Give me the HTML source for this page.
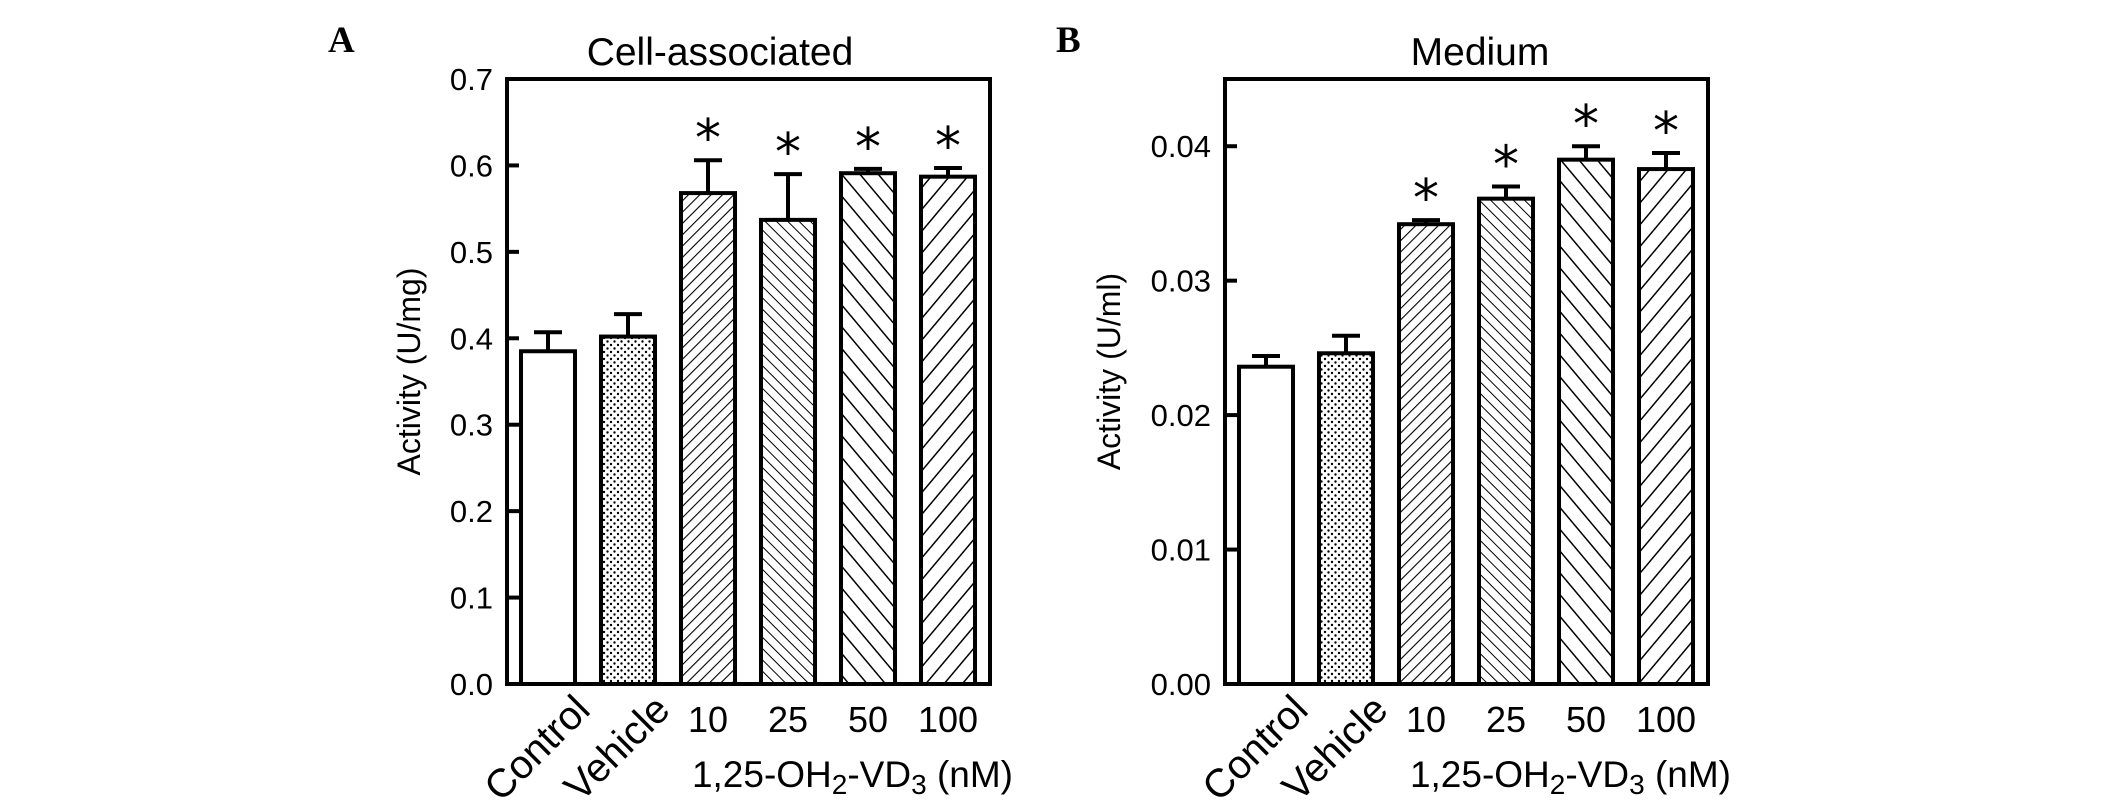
<!DOCTYPE html>
<html><head><meta charset="utf-8">
<style>
html,body{margin:0;padding:0;background:#fff;}
svg{display:block;font-family:"Liberation Sans",Arial,sans-serif;}
</style></head>
<body>
<svg id="fig" width="2126" height="806" viewBox="0 0 2126 806" xmlns="http://www.w3.org/2000/svg">
<defs>
<pattern id="dots" patternUnits="userSpaceOnUse" width="7" height="7"><rect width="7" height="7" fill="#fff"/><circle cx="2" cy="2" r="1.2" fill="#000"/><circle cx="5.5" cy="5.5" r="1.2" fill="#000"/></pattern>
<pattern id="fwdDense" patternUnits="userSpaceOnUse" width="8" height="8" patternTransform="rotate(45)"><rect width="8" height="8" fill="#fff"/><line x1="0" y1="0" x2="0" y2="8" stroke="#000" stroke-width="2.2"/></pattern>
<pattern id="backDense" patternUnits="userSpaceOnUse" width="8" height="8" patternTransform="rotate(-45)"><rect width="8" height="8" fill="#fff"/><line x1="0" y1="0" x2="0" y2="8" stroke="#000" stroke-width="2"/></pattern>
<pattern id="backWide" patternUnits="userSpaceOnUse" width="14" height="14" patternTransform="rotate(-40)"><rect width="14" height="14" fill="#fff"/><line x1="0" y1="0" x2="0" y2="14" stroke="#000" stroke-width="3"/></pattern>
<pattern id="fwdWide" patternUnits="userSpaceOnUse" width="14" height="14" patternTransform="rotate(40)"><rect width="14" height="14" fill="#fff"/><line x1="0" y1="0" x2="0" y2="14" stroke="#000" stroke-width="3"/></pattern>
</defs>
<g id="panelA"></g>
<g id="panelB"></g>
</svg>
<script>
const categories = ["Control","Vehicle","10","25","50","100"];
const fills = ["#fff","url(#dots)","url(#fwdDense)","url(#backDense)","url(#backWide)","url(#fwdWide)"];
const starFlags = [false,false,true,true,true,true];
const valuesA = [0.385,0.402,0.568,0.537,0.591,0.587];
const errorsA = [0.022,0.026,0.038,0.053,0.005,0.010];
const ticksA = ["0.0","0.1","0.2","0.3","0.4","0.5","0.6","0.7"];
const valuesB = [0.0236,0.0246,0.0342,0.0361,0.0390,0.0383];
const errorsB = [0.0008,0.0013,0.0003,0.0009,0.0010,0.0012];
const ticksB = ["0.00","0.01","0.02","0.03","0.04"];

const NS="http://www.w3.org/2000/svg";
function mk(parent,tag,attrs,text){const e=document.createElementNS(NS,tag);for(const k in attrs)e.setAttribute(k,attrs[k]);if(text!==undefined)e.textContent=text;parent.appendChild(e);return e;}

function drawPanel(g,cfg){
  const L=cfg.left,R=cfg.left+483,T=79,B=684;
  const y=v=>B-(v/cfg.ymax)*(B-T);
  const bx=i=>L+14+i*80;
  const bw=54;
  const lt=mk(g,'text',{x:cfg.letterX,y:52,'font-family':'"Liberation Serif",serif','font-weight':'bold','font-size':37},cfg.letter);
  
  
  const tt=mk(g,'text',{x:cfg.titleX,y:65,'text-anchor':'middle','font-size':39},cfg.title);
  
  
  for(let i=0;i<categories.length;i++){
    const v=cfg.values[i],e=cfg.errors[i],cx=bx(i)+bw/2;
    const bar=mk(g,'rect',{x:bx(i),y:y(v),width:bw,height:B-y(v),fill:fills[i],stroke:'#000','stroke-width':4});
    
    
    const eg=mk(g,'path',{d:`M${cx} ${y(v)} V${y(v+e)} M${cx-14} ${y(v+e)} H${cx+14}`,stroke:'#000','stroke-width':4,fill:'none'});
    
    
    if(starFlags[i]){
      const st=mk(g,'text',{x:cx,y:y(v+e)-4,'text-anchor':'middle','font-size':52,'font-family':'"DejaVu Sans",sans-serif'},'*');
      
      
    }
  }
  const fr=mk(g,'rect',{x:L,y:T,width:R-L,height:B-T,fill:'none',stroke:'#000','stroke-width':4});
  
  
  for(let k=0;k<cfg.ticks.length;k++){
    const v=parseFloat(cfg.ticks[k]),yy=y(v);
    if(v>0&&yy>T+2){const tk=mk(g,'line',{x1:L,x2:L+12,y1:yy,y2:yy,stroke:'#000','stroke-width':4});
      
      }
    const tl=mk(g,'text',{x:L-14,y:yy+11,'text-anchor':'end','font-size':31},cfg.ticks[k]);
    
    
  }
  const yl=mk(g,'text',{transform:`translate(${cfg.ylabX},${(T+B)/2-10}) rotate(-90)`,'text-anchor':'middle','font-size':32},cfg.ylabel);
  
  
  for(let i=0;i<categories.length;i++){
    const cx=bx(i)+bw/2;
    let t;
    if(i<2){t=mk(g,'text',{transform:`translate(${cx+44},${B+28}) rotate(-45)`,'text-anchor':'end','font-size':40},categories[i]);}
    else{t=mk(g,'text',{x:cx,y:B+48,'text-anchor':'middle','font-size':36},categories[i]);}
    
    
  }
  const xt=mk(g,'text',{x:R+23,y:B+103,'text-anchor':'end','font-size':37});
  
  
  xt.innerHTML='1,25-OH<tspan font-size="28" dy="7">2</tspan><tspan dy="-7">-VD</tspan><tspan font-size="28" dy="7">3</tspan><tspan dy="-7"> (nM)</tspan>';
}
drawPanel(document.getElementById('panelA'),{left:507,ymax:0.7,values:valuesA,errors:errorsA,ticks:ticksA,letter:'A',letterX:328,title:'Cell-associated',titleX:720,ylabel:'Activity (U/mg)',ylabX:420});
drawPanel(document.getElementById('panelB'),{left:1225,ymax:0.045,values:valuesB,errors:errorsB,ticks:ticksB,letter:'B',letterX:1056,title:'Medium',titleX:1480,ylabel:'Activity (U/ml)',ylabX:1120});
</script>
</body></html>
